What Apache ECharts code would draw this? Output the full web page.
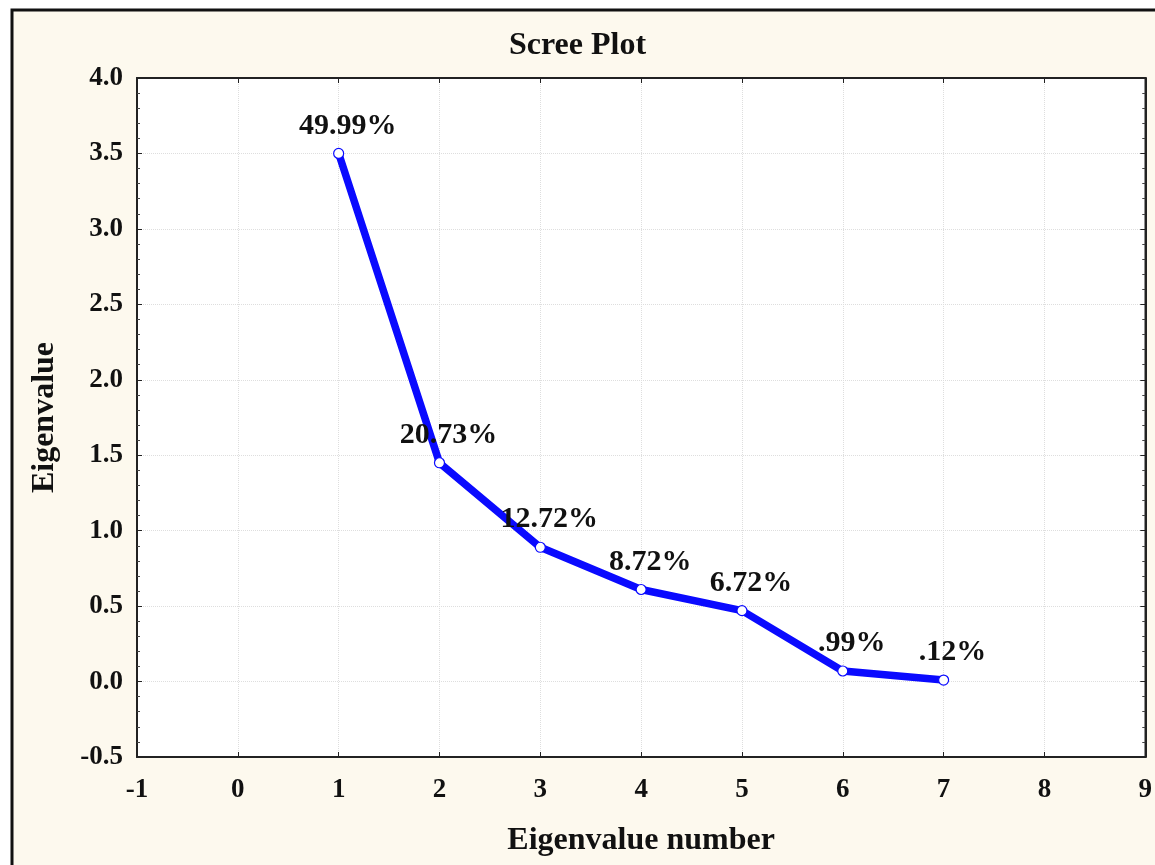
<!DOCTYPE html>
<html>
<head>
<meta charset="utf-8">
<script src="https://cdn.jsdelivr.net/npm/echarts@6/dist/echarts.min.js"></script>
<style>
  html, body { margin: 0; padding: 0; background: #ffffff; }
  #chart { width: 1155px; height: 865px; }
</style>
</head>
<body>
<div id="chart"></div>
<script>
// Component numbers, their eigenvalues and share of explained variance
const componentNumbers = [1, 2, 3, 4, 5, 6, 7];
const eigenvalues = [3.50, 1.45, 0.89, 0.61, 0.47, 0.07, 0.01];
const varianceLabels = ['49.99%', '20.73%', '12.72%', '8.72%', '6.72%', '.99%', '.12%'];

const serif = '"Liberation Serif", "DejaVu Serif", serif';
const tickFont = { color: '#111', fontFamily: serif, fontWeight: 'bold', fontSize: 27 };

const chart = echarts.init(document.getElementById('chart'), null, { renderer: 'canvas' });

const points = componentNumbers.map((n, i) => [n, eigenvalues[i]]);

chart.setOption({
  backgroundColor: '#ffffff',
  animation: false,
  graphic: [{
    type: 'rect',
    z: -10,
    silent: true,
    shape: { x: 12, y: 10, width: 1160, height: 870 },
    style: { fill: '#fdf9ee', stroke: '#111', lineWidth: 3 }
  }],
  title: {
    text: 'Scree Plot',
    left: 'center',
    top: 25,
    textStyle: { fontFamily: serif, fontWeight: 'bold', fontSize: 32, color: '#111' }
  },
  grid: {
    left: 137, top: 78, right: 4, bottom: 108,
    show: true,
    backgroundColor: '#ffffff',
    borderColor: '#222',
    borderWidth: 1.5
  },
  xAxis: [{
    type: 'value',
    min: -1, max: 9, interval: 1,
    name: 'Eigenvalue number',
    nameLocation: 'middle',
    nameGap: 68,
    nameTextStyle: { fontFamily: serif, fontWeight: 'bold', fontSize: 32, color: '#111' },
    axisLine: { show: true, onZero: false, lineStyle: { color: '#222', width: 2 } },
    axisTick: { show: true, inside: true, length: 5, lineStyle: { color: '#222' } },
    axisLabel: Object.assign({ margin: 20 }, tickFont),
    splitLine: { show: true, lineStyle: { color: '#dedede', type: 'dotted', width: 1 } }
  }, {
    type: 'value',
    position: 'top',
    min: -1, max: 9, interval: 1,
    axisLine: { show: true, onZero: false, lineStyle: { color: '#222', width: 2 } },
    axisTick: { show: true, inside: true, length: 5, lineStyle: { color: '#222' } },
    axisLabel: { show: false },
    splitLine: { show: false }
  }],
  yAxis: [{
    type: 'value',
    min: -0.5, max: 4, interval: 0.5,
    name: 'Eigenvalue',
    nameLocation: 'middle',
    nameGap: 76,
    nameTextStyle: { fontFamily: serif, fontWeight: 'bold', fontSize: 32, color: '#111' },
    axisLine: { show: true, onZero: false, lineStyle: { color: '#222', width: 2 } },
    axisTick: { show: true, inside: true, length: 5, lineStyle: { color: '#222' } },
    minorTick: { show: true, splitNumber: 5, length: 3, lineStyle: { color: '#444' } },
    axisLabel: Object.assign({ margin: 14, formatter: v => v.toFixed(1) }, tickFont),
    splitLine: { show: true, lineStyle: { color: '#dedede', type: 'dotted', width: 1 } }
  }, {
    type: 'value',
    position: 'right',
    min: -0.5, max: 4, interval: 0.5,
    axisLine: { show: true, onZero: false, lineStyle: { color: '#222', width: 2 } },
    axisTick: { show: true, inside: true, length: 5, lineStyle: { color: '#222' } },
    minorTick: { show: true, splitNumber: 5, length: 3, lineStyle: { color: '#444' } },
    axisLabel: { show: false },
    splitLine: { show: false }
  }],
  series: [{
    type: 'line',
    xAxisIndex: 0,
    yAxisIndex: 0,
    data: points,
    lineStyle: { color: '#0a0aff', width: 7.5 },
    symbol: 'circle',
    symbolSize: 10,
    itemStyle: { color: '#ffffff', borderColor: '#0a0aff', borderWidth: 1.2 },
    label: {
      show: true,
      position: 'top',
      distance: 7,
      offset: [9, 0],
      formatter: p => varianceLabels[p.dataIndex],
      fontFamily: serif,
      fontWeight: 'bold',
      fontSize: 30,
      color: '#111'
    },
    z: 5
  }]
});
</script>
</body>
</html>
